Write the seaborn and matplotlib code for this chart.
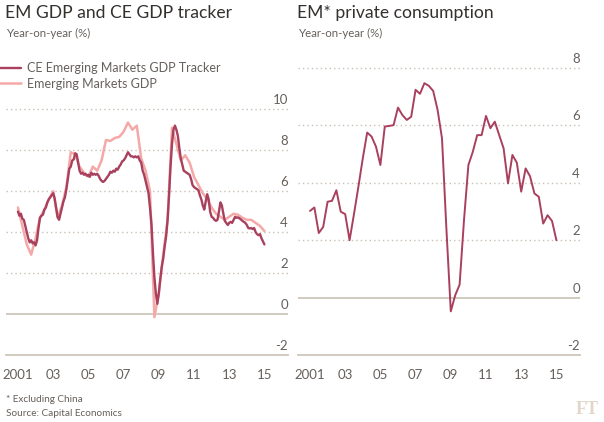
import numpy as np
import pandas as pd
import matplotlib
matplotlib.use("Agg")
import matplotlib.pyplot as plt
import matplotlib.transforms as mtransforms
import seaborn as sns

# ---------------- data ----------------
# CE Emerging Markets GDP Tracker, monthly, Jan 2001 .. Jan 2015
tracker_2001 = [5.0, 4.8, 4.9, 4.65, 4.6, 4.3, 4.0, 3.7, 3.5, 3.6, 3.45, 3.5]
tracker_2002 = [3.35, 3.6, 4.2, 4.7, 4.8, 4.85, 5.1, 5.2, 5.45, 5.6, 5.7, 5.8]
tracker_2003 = [5.9, 5.65, 5.2, 4.75, 4.6, 4.9, 5.2, 5.5, 5.7, 6.1, 6.6, 7.1]
tracker_2004 = [7.2, 7.5, 7.55, 7.85, 7.8, 7.4, 7.0, 6.85, 6.9, 6.8, 6.85, 6.75]
tracker_2005 = [6.8, 6.7, 6.9, 6.8, 6.85, 6.8, 6.85, 6.75, 6.6, 6.5, 6.45, 6.5]
tracker_2006 = [6.6, 6.7, 6.8, 6.95, 6.9, 7.0, 6.95, 7.1, 7.05, 7.2, 7.3, 7.45]
tracker_2007 = [7.5, 7.6, 7.75, 7.9, 7.8, 7.7, 7.7, 7.65, 7.7, 7.65, 7.7, 7.5]
tracker_2008 = [7.4, 7.0, 6.8, 6.5, 6.2, 5.9, 5.2, 4.4, 3.0, 1.8, 1.0, 0.5]
tracker_2009 = [1.0, 1.7, 2.3, 2.7, 3.3, 3.8, 4.6, 5.8, 7.2, 8.3, 9.0, 9.2]
tracker_2010 = [9.0, 8.7, 8.1, 7.6, 7.3, 7.0, 6.95, 6.9, 6.85, 6.8, 6.6, 6.3]
tracker_2011 = [6.2, 6.15, 6.1, 6.05, 5.8, 5.6, 5.3, 5.1, 5.5, 5.85, 5.6, 5.0]
tracker_2012 = [4.75, 4.7, 4.6, 4.55, 4.6, 5.0, 5.45, 5.3, 4.9, 4.55, 4.45, 4.35]
tracker_2013 = [4.45, 4.5, 4.45, 4.6, 4.75, 4.7, 4.72, 4.67, 4.62, 4.55, 4.5, 4.45]
tracker_2014 = [4.35, 4.2, 4.18, 4.2, 4.15, 4.2, 4.0, 3.9, 3.85, 3.9, 3.7, 3.55]
tracker_2015 = [3.4]

# Emerging Markets GDP, quarterly, 2001Q1 .. 2015Q1
em_gdp = [5.2, 4.3, 3.4, 2.9,
          3.7, 4.7, 5.1, 5.6,
          6.0, 4.7, 5.3, 6.2,
          7.9, 7.8, 7.2, 6.9,
          6.7, 7.2, 7.0, 7.5,
          8.5, 8.45, 8.6, 8.65,
          8.9, 9.35, 9.0, 9.2,
          7.6, 7.0, 6.0, -0.15,
          1.0, 2.9, 4.6, 9.1,
          8.3, 7.5, 7.75, 7.4,
          6.7, 6.3, 5.9, 5.6,
          5.2, 4.9, 4.75, 4.6,
          4.75, 4.9, 4.85, 4.7,
          4.6, 4.6, 4.45, 4.3,
          4.05]

# EM (ex China) private consumption, quarterly, 2001Q1 .. 2015Q1
consumption = [3.02, 3.14, 2.25, 2.46,
               3.34, 3.37, 3.74, 2.99,
               2.91, 2.0, 2.91, 3.86,
               4.85, 5.75, 5.61, 5.26,
               4.62, 5.96, 5.98, 6.01,
               6.62, 6.36, 6.19, 6.30,
               7.24, 7.10, 7.47, 7.38,
               7.20, 6.54, 5.55, 2.4,
               -0.48, 0.08, 0.45, 2.7,
               4.62, 5.08, 5.66, 5.66,
               6.33, 5.90, 6.13, 5.66,
               5.20, 3.98, 4.97, 4.70,
               3.69, 4.50, 4.23, 3.63,
               3.51, 2.58, 2.87, 2.67,
               2.0]

year_ticks = list(range(2001, 2017))
year_labels = ["2001", "", "03", "", "05", "", "07", "", "09", "", "11", "", "13", "", "15", ""]
left_yticks = [-2, 0, 2, 4, 6, 8, 10]
right_yticks = [-2, 0, 2, 4, 6, 8]

title_left = "EM GDP and CE GDP tracker"
title_right = "EM* private consumption"
subtitle = "Year-on-year (%)"
legend_labels = ["CE Emerging Markets GDP Tracker", "Emerging Markets GDP"]
footnote = "* Excluding China"
source = "Source: Capital Economics"

tracker = (tracker_2001 + tracker_2002 + tracker_2003 + tracker_2004 + tracker_2005 +
           tracker_2006 + tracker_2007 + tracker_2008 + tracker_2009 + tracker_2010 +
           tracker_2011 + tracker_2012 + tracker_2013 + tracker_2014 + tracker_2015)
df_tracker = pd.DataFrame({"year": 2001 + np.arange(len(tracker)) / 12.0, "value": tracker})
df_em = pd.DataFrame({"year": 2001 + np.arange(len(em_gdp)) / 4.0, "value": em_gdp})
df_cons = pd.DataFrame({"year": 2001 + np.arange(len(consumption)) / 4.0, "value": consumption})

# ---------------- style ----------------
sns.set_style("white")
plt.rcParams["font.family"] = ["Lato", "DejaVu Sans"]

DARK = "#A8405E"
PINK = "#F4A9A8"
GRID = "#C9C1B6"
AXIS = "#CEC6B9"
TEXT = "#66605C"
TITLE = "#33302E"

W, H = 604, 422
fig = plt.figure(figsize=(W / 100, H / 100), dpi=100)
fig.patch.set_facecolor("white")


def px_axes(x0, x1, ytop, ybot):
    return fig.add_axes([x0 / W, (H - ybot) / H, (x1 - x0) / W, (ybot - ytop) / H])


axL = px_axes(6, 288, 99, 355)
axR = px_axes(298, 580, 56.5, 355)


def style_axes(ax, ylim, yticks):
    ax.set_xlim(2000.32, 2016.34)
    ax.set_ylim(*ylim)
    for s in ["top", "right", "left"]:
        ax.spines[s].set_visible(False)
    ax.spines["bottom"].set_color(AXIS)
    ax.spines["bottom"].set_linewidth(1.3)
    ax.set_xticks(year_ticks)
    ax.set_xticklabels(year_labels)
    ax.tick_params(axis="x", direction="out", length=6, width=1, color=AXIS,
                   labelsize=9.5, labelcolor=TEXT, pad=4)
    ax.set_yticks([])
    ax.set_xlabel("")
    ax.set_ylabel("")
    trans = mtransforms.blended_transform_factory(ax.transAxes, ax.transData)
    offset = mtransforms.ScaledTranslation(0, 3 / 100, fig.dpi_scale_trans)
    for v in yticks:
        if v > ylim[0]:
            if v == 0:
                ax.axhline(0, color=AXIS, lw=1.3, zorder=1)
            else:
                ax.axhline(v, color=GRID, lw=1.0, ls=(0, (1, 2.2)), zorder=1)
        ax.text(1.0, v, str(v), transform=trans + offset, ha="right", va="bottom",
                fontsize=9.5, color=TEXT)


style_axes(axL, (-2, 10.5), left_yticks)
style_axes(axR, (-2, 8.4), right_yticks)

sns.lineplot(data=df_em, x="year", y="value", ax=axL, color=PINK, lw=1.8,
             label=legend_labels[1], zorder=3)
sns.lineplot(data=df_tracker, x="year", y="value", ax=axL, color=DARK, lw=1.7,
             label=legend_labels[0], zorder=4)
sns.lineplot(data=df_cons, x="year", y="value", ax=axR, color=DARK, lw=1.4, zorder=4)
axL.set_xlabel(""); axL.set_ylabel("")
axR.set_xlabel(""); axR.set_ylabel("")

handles, labels = axL.get_legend_handles_labels()
order = [labels.index(legend_labels[0]), labels.index(legend_labels[1])]
axL.legend([handles[i] for i in order], [labels[i] for i in order],
           loc="upper left", bbox_to_anchor=(0 / W, 1 - 62 / H),
           bbox_transform=fig.transFigure, frameon=False, fontsize=9,
           handlelength=1.7, handletextpad=0.45, labelspacing=0.3,
           borderaxespad=0, borderpad=0, labelcolor=TEXT)

# titles
fig.text(5 / W, 1 - 13 / H, title_left, fontsize=12.6, color=TITLE, va="center", ha="left")
fig.text(297 / W, 1 - 13 / H, title_right, fontsize=12.6, color=TITLE, va="center", ha="left")
fig.text(6 / W, 1 - 33 / H, subtitle, fontsize=8.3, color=TEXT, va="center", ha="left")
fig.text(298 / W, 1 - 33 / H, subtitle, fontsize=8.3, color=TEXT, va="center", ha="left")

# footer
fig.text(6 / W, 1 - 399 / H, footnote, fontsize=7.2, color=TEXT, va="center", ha="left")
fig.text(6 / W, 1 - 414 / H, source, fontsize=7.2, color=TEXT, va="center", ha="left")
fig.text(599 / W, 1 - 409 / H, "FT", fontsize=13, color="#E2D6C8", fontweight="bold",
         family=["Liberation Serif", "DejaVu Serif"], va="center", ha="right")

fig.savefig("out.png", dpi=100, facecolor="white")
